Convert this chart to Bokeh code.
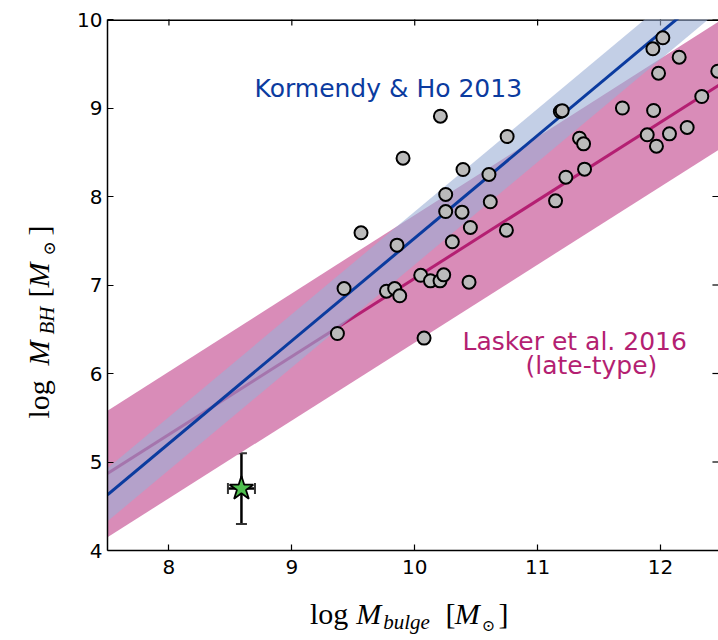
import math
from bokeh.plotting import figure
from bokeh.layouts import row, column
from bokeh.models import (Range1d, FixedTicker, Label, Whisker, ColumnDataSource, TeeHead)
from bokeh.embed import file_html
from bokeh.resources import INLINE

# ---------------- data ----------------
gal_log_mbulge = [9.905, 10.393, 10.604, 10.252, 10.252, 10.385, 10.615, 10.453,
                  10.746, 9.563, 9.856, 10.306, 9.425, 10.049, 10.128, 10.206,
                  10.236, 10.442, 9.770, 9.837, 9.878, 9.371, 10.076, 10.752,
                  10.209, 11.185, 11.200, 11.690, 11.944, 11.938, 12.019, 12.152,
                  11.984, 12.466, 12.336, 11.892, 12.073, 11.967, 12.217, 11.341,
                  11.374, 11.382, 11.230, 11.146]
gal_log_mbh = [8.433, 8.305, 8.249, 8.023, 7.830, 7.823, 7.940, 7.650,
               7.619, 7.590, 7.450, 7.488, 6.960, 7.110, 7.047, 7.047,
               7.115, 7.032, 6.930, 6.960, 6.878, 6.452, 6.400, 8.678,
               8.907, 8.960, 8.970, 9.000, 8.972, 9.669, 9.793, 9.574,
               9.393, 9.416, 9.130, 8.697, 8.708, 8.568, 8.780, 8.659,
               8.595, 8.309, 8.218, 7.951]

star_x = [8.59]
star_y = [4.70]
star_xerr = [0.11]
star_yerr = [0.40]

# Kormendy & Ho 2013 relation and band (end points)
kh_x = [7.5, 12.5]
kh_y = [4.63, 10.43]
kh_lo = [4.33, 10.13]
kh_hi = [4.93, 10.73]

# Lasker et al. 2016 (late-type) relation and band (end points)
las_x = [7.5, 12.5]
las_y = [4.87, 9.28]
las_lo = [4.15, 8.55]
las_hi = [5.58, 10.00]

x_ticks = [8, 9, 10, 11, 12]
y_ticks = [4, 5, 6, 7, 8, 9, 10]
x_spine_right = 12.5   # right spine (just outside the visible window)

# ---------------- styling ----------------
BLUE = "#0b3b9f"
MAGENTA = "#b41f72"
PINK_BAND = "#d98cb8"
BLUE_BAND = "#9bafd5"

W, H = 718, 640
YLAB_W = 60           # strip holding the y-axis title
XLAB_H = 50           # strip holding the x-axis title
PW, PH = W - YLAB_W, H - XLAB_H
BL, BT, BB = 47, 19, 40   # frame: left 107, top 19, bottom 550 (page pixels)

XMIN, XMAX = 7.5, 12.472
YMIN, YMAX = 4.0, 10.0

# Bokeh draws an "alphabetic" baseline about 0.39 em lower than asked: compensate
BASE_FIX = 0.39

p = figure(width=PW, height=PH, x_range=Range1d(XMIN, XMAX), y_range=Range1d(YMIN, YMAX),
           output_backend="svg", toolbar_location=None, title=None,
           min_border_left=BL, min_border_right=0, min_border_top=BT, min_border_bottom=BB)
p.outline_line_color = None
p.xgrid.visible = False
p.ygrid.visible = False
p.background_fill_color = "white"
p.border_fill_color = "white"

for ax in (p.xaxis[0], p.yaxis[0]):
    ax.axis_line_color = "black"
    ax.axis_line_width = 1.5
    ax.major_tick_line_color = "black"
    ax.major_tick_line_width = 1.2
    ax.major_tick_in = 6
    ax.major_tick_out = 0
    ax.minor_tick_line_color = None
    ax.major_label_text_font = "DejaVu Sans"
    ax.major_label_text_font_size = "20px"
    ax.major_label_text_color = "black"
p.xaxis.ticker = FixedTicker(ticks=x_ticks)
p.yaxis.ticker = FixedTicker(ticks=y_ticks)
p.xaxis.major_label_standoff = 9
p.yaxis.major_label_standoff = 5

# top spine and inward ticks on top / right (matplotlib-like box)
p.hspan(y=[YMAX], line_color="black", line_width=3)
p.scatter(x_ticks, [YMAX] * len(x_ticks), marker="dash", angle=math.pi / 2, size=12,
          line_color="black", line_width=1.2)
p.scatter([x_spine_right] * len(y_ticks), y_ticks, marker="dash", size=19,
          line_color="black", line_width=1.2)

# ---------------- marks ----------------
p.varea(x=las_x, y1=las_lo, y2=las_hi, fill_color=PINK_BAND, fill_alpha=1.0)
p.line(las_x, las_y, line_color=MAGENTA, line_width=3)
p.varea(x=kh_x, y1=kh_lo, y2=kh_hi, fill_color=BLUE_BAND, fill_alpha=0.6)
p.line(kh_x, kh_y, line_color=BLUE, line_width=3)

p.scatter(gal_log_mbulge, gal_log_mbh, size=13, fill_color="#bbbbbb",
          line_color="black", line_width=2)

err_src = ColumnDataSource(dict(
    x=star_x, y=star_y,
    ylo=[y - e for y, e in zip(star_y, star_yerr)],
    yhi=[y + e for y, e in zip(star_y, star_yerr)],
    xlo=[x - e for x, e in zip(star_x, star_xerr)],
    xhi=[x + e for x, e in zip(star_x, star_xerr)],
))
for base, lo, hi, dim in (("x", "ylo", "yhi", "height"), ("y", "xlo", "xhi", "width")):
    p.add_layout(Whisker(source=err_src, base=base, lower=lo, upper=hi, dimension=dim,
                         line_color="black", line_width=2.5, level="underlay",
                         upper_head=TeeHead(size=11, line_color="#333333", line_width=2),
                         lower_head=TeeHead(size=11, line_color="#333333", line_width=2)))
p.scatter(star_x, star_y, marker="star", size=25, fill_color="#4fbf4f",
          line_color="black", line_width=1.8)

# ---------------- in-plot text ----------------
frame_w = PW - BL
frame_h = PH - BT - BB


def px2x(px):   # page pixel -> data (main plot)
    return XMIN + (px - YLAB_W - BL) * (XMAX - XMIN) / frame_w


def py2y(py):
    return YMAX - (py - BT) * (YMAX - YMIN) / frame_h


for txt, px, py, col in (("Kormendy & Ho 2013", 254, 97.5, BLUE),
                         ("Lasker et al. 2016", 462, 350.5, MAGENTA),
                         ("(late-type)", 525, 375, MAGENTA)):
    p.add_layout(Label(x=px2x(px), y=py2y(py - BASE_FIX * 25), text=txt,
                       text_font="DejaVu Sans",
                       text_font_size="25px", text_color=col,
                       text_baseline="alphabetic", text_align="left"))

# ---------------- axis titles (in their own strips) ----------------
def strip(w, h):
    f = figure(width=w, height=h, x_range=Range1d(0, w), y_range=Range1d(0, h),
               output_backend="svg", toolbar_location=None, title=None,
               x_axis_type=None, y_axis_type=None,
               min_border_left=0, min_border_right=0, min_border_top=0, min_border_bottom=0)
    f.outline_line_color = None
    f.xgrid.visible = False
    f.ygrid.visible = False
    f.background_fill_color = "white"
    f.border_fill_color = "white"
    return f


ylab = strip(YLAB_W, H)
xlab = strip(PW, XLAB_H)

SERIF = "Liberation Serif"


def piece(fig, ox, oy, text, px, py, size, italic=False, rotated=False, font=SERIF):
    if rotated:
        px = px - BASE_FIX * size
        angle = math.pi / 2
    else:
        py = py - BASE_FIX * size
        angle = 0.0
    fig.add_layout(Label(x=px - ox, y=(oy - py), text=text, text_font=font,
                         text_font_size=f"{size}px",
                         text_font_style="italic" if italic else "normal",
                         text_color="black", text_baseline="alphabetic",
                         text_align="left", angle=angle))


# x-axis title: log M_bulge [M_sun]; strip origin: page x=60, bottom at page y=640
XO, XOY = YLAB_W, H
piece(xlab, XO, XOY, "log", 278, 625, 30)
piece(xlab, XO, XOY, "M", 328, 625, 30, italic=True)
piece(xlab, XO, XOY, "bulge", 357, 630, 21, italic=True)
piece(xlab, XO, XOY, "[", 424, 625, 30)
piece(xlab, XO, XOY, "M", 434, 625, 30, italic=True)
piece(xlab, XO, XOY, "\u2299", 463, 631, 16, font="DejaVu Serif")
piece(xlab, XO, XOY, "]", 481, 625, 30)

# y-axis title: log M_BH [M_sun] (rotated, reading upwards)
piece(ylab, 0, H, "log", 50, 418, 30, rotated=True)
piece(ylab, 0, H, "M", 50, 365, 30, italic=True, rotated=True)
piece(ylab, 0, H, "BH", 54.5, 334, 21, italic=True, rotated=True)
piece(ylab, 0, H, "[", 50, 297, 30, rotated=True)
piece(ylab, 0, H, "M", 50, 287, 30, italic=True, rotated=True)
piece(ylab, 0, H, "\u2299", 55, 255, 17, rotated=True, font="DejaVu Serif")
piece(ylab, 0, H, "]", 50, 235, 30, rotated=True)

layout = row(ylab, column(p, xlab, spacing=0), spacing=0)

open("out.html", "w").write(file_html(layout, INLINE))
